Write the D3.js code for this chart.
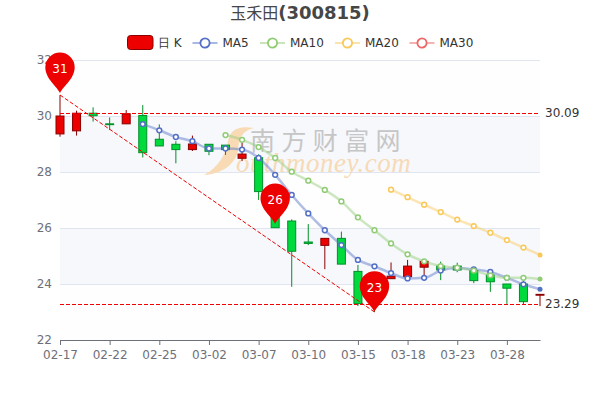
<!DOCTYPE html>
<html>
<head>
<meta charset="utf-8">
<title>玉禾田(300815)</title>
<script src="https://cdn.jsdelivr.net/npm/d3@7/dist/d3.min.js"></script>
<style>
  html, body { margin: 0; padding: 0; background: #fff; }
  svg { display: block; }
  text { font-family: "DejaVu Sans", sans-serif; }
</style>
</head>
<body>
<div class="chart"></div>
<script>
// data
var dates = ["02-17","02-18","02-21","02-22","02-23","02-24","02-25","02-28","03-01","03-02",
             "03-03","03-04","03-07","03-08","03-09","03-10","03-11","03-14","03-15","03-16",
             "03-17","03-18","03-21","03-22","03-23","03-24","03-25","03-28","03-29","03-30"];
var opens  = [29.36,29.47,30.10,29.72,29.72,30.02,29.17,28.99,28.80,28.99,28.96,28.49,28.51,27.30,26.25,25.50,25.38,25.63,24.45,24.30,24.19,24.26,24.60,24.64,24.64,24.48,24.32,24.00,24.00,23.60];
var closes = [30.00,30.10,30.01,29.69,30.08,28.69,28.93,28.80,29.00,28.74,28.80,28.64,27.30,26.01,25.17,25.45,25.63,24.71,23.30,24.00,24.28,24.64,24.81,24.50,24.50,24.12,24.08,23.85,23.37,23.63];
var lows   = [29.26,29.30,29.80,29.50,29.72,28.52,28.93,28.31,28.75,28.60,28.61,28.39,27.00,26.01,23.90,25.39,24.53,24.71,23.21,23.00,24.19,24.26,24.32,24.14,24.42,24.03,23.72,23.29,23.25,23.21];
var highs  = [30.75,30.19,30.31,29.95,30.21,30.39,29.70,29.10,29.30,29.00,28.96,29.05,28.63,27.30,26.31,26.14,25.63,25.87,24.68,24.40,24.77,24.86,24.85,24.80,24.76,24.60,24.35,24.00,24.14,23.63];
var ma5  = [null,null,null,null,null,29.71,29.49,29.25,29.10,28.84,28.84,28.80,28.50,27.90,27.18,26.52,25.92,25.39,24.86,24.63,24.39,24.20,24.22,24.48,24.57,24.52,24.43,24.22,23.99,23.81];
var ma10 = [null,null,null,null,null,null,null,null,null,null,29.32,29.15,28.89,28.50,28.01,27.69,27.36,26.95,26.38,25.92,25.45,25.06,24.81,24.64,24.58,24.48,24.31,24.22,24.22,24.18];
var ma20 = [null,null,null,null,null,null,null,null,null,null,null,null,null,null,null,null,null,null,null,null,27.37,27.10,26.83,26.57,26.30,26.07,25.83,25.57,25.30,25.04];
var yTicks = [22,24,26,28,30,32];
var pinDates = ["02-17","03-08","03-16"];
var pinValues = [30.81,26.14,23.00];
var pinLabels = ["31","26","23"];
var hLines = [30.09,23.29];
var slantFrom = ["02-17",30.75];
var slantTo = ["03-16",23.00];

var width = 600, height = 400;
var red = "#ec0000", redBorder = "#8a0000", green = "#00da3c", greenBorder = "#008f28";
var maSeries = [
  {name:"MA5", values:ma5, color:"#5470c6", lx:192.5},
  {name:"MA10", values:ma10, color:"#91cc75", lx:260},
  {name:"MA20", values:ma20, color:"#fac858", lx:335},
  {name:"MA30", values:[], color:"#ee6666", lx:409.5}
];

var x = d3.scalePoint().domain(dates).range([60,540]);
var y = d3.scaleLinear().domain([22,32]).range([340,60]);

var svg = d3.select(".chart").append("svg")
  .attr("width",width).attr("height",height)
  .attr("viewBox",[0,0,width,height]);

//alternate background bands
svg.append("g").selectAll("rect")
  .data(d3.pairs(yTicks))
  .enter().append("rect")
  .attr("x",x.range()[0])
  .attr("width",x.range()[1]-x.range()[0])
  .attr("y",function(d){ return y(d[1]); })
  .attr("height",function(d){ return y(d[0])-y(d[1]); })
  .attr("fill",function(d,i){ return i%2 ? "#f6f8fc" : "#fefefe"; });

//split lines
svg.append("g").selectAll("line")
  .data(yTicks.slice(1))
  .enter().append("line")
  .attr("x1",60).attr("x2",540)
  .attr("y1",function(d){ return y(d)+0.5; })
  .attr("y2",function(d){ return y(d)+0.5; })
  .attr("stroke","#e0e6f1");

//watermark
var mark = svg.append("g").attr("class","watermark");
mark.append("path")
  .attr("d","M254,128 C238,125 230,130 228,141 C226,154 218,168 204,175 C222,174 236,164 238,150 C239,138 242,131 254,128 Z")
  .attr("fill","#f8dbb5");
mark.append("text")
  .attr("x",250).attr("y",150)
  .attr("font-size",25)
  .attr("letter-spacing",6.4)
  .attr("fill","#c6c6c6")
  .style("font-family","'Noto Sans CJK SC', sans-serif")
  .text("南方财富网");
mark.append("text")
  .attr("x",236).attr("y",172)
  .attr("font-size",27)
  .attr("font-style","italic")
  .attr("letter-spacing",0.5)
  .attr("fill","#f7dab6")
  .style("font-family","'Liberation Serif', serif")
  .text("outhmoney.com");

//axes
var yAxis = d3.axisLeft(y).tickValues(yTicks).tickSize(0).tickPadding(8);
svg.append("g").attr("transform","translate(60,0)").call(yAxis)
  .call(function(g){ g.select(".domain").remove(); })
  .selectAll("text").attr("font-size",12).attr("fill","#6e7079").style("font-family","'DejaVu Sans'");

var xAxis = d3.axisBottom(x)
  .tickValues(dates.filter(function(d,i){ return i%3==0; }))
  .tickSize(5).tickSizeOuter(0).tickPadding(5);
var xg = svg.append("g").attr("transform","translate(0,340)").call(xAxis);
xg.selectAll("path,line").attr("stroke","#6e7079");
xg.selectAll("text").attr("font-size",12).attr("fill","#6e7079").style("font-family","'DejaVu Sans'");

//candles
var candles = svg.append("g").attr("class","candles").selectAll("g")
  .data(dates)
  .enter().append("g");
function isUp(i){ return closes[i]>=opens[i]; }
candles.append("line")
  .attr("x1",function(d){ return x(d); })
  .attr("x2",function(d){ return x(d); })
  .attr("y1",function(d,i){ return y(highs[i]); })
  .attr("y2",function(d,i){ return y(lows[i]); })
  .attr("stroke",function(d,i){ return isUp(i) ? redBorder : greenBorder; });
candles.append("rect")
  .attr("x",function(d){ return x(d)-4; })
  .attr("width",8)
  .attr("y",function(d,i){ return y(Math.max(opens[i],closes[i])); })
  .attr("height",function(d,i){ return Math.abs(y(opens[i])-y(closes[i])); })
  .attr("fill",function(d,i){ return isUp(i) ? red : green; })
  .attr("stroke",function(d,i){ return isUp(i) ? redBorder : greenBorder; });

//moving averages
var line = d3.line()
  .defined(function(d){ return d[1]!=null; })
  .x(function(d){ return x(d[0]); })
  .y(function(d){ return y(d[1]); })
  .curve(d3.curveMonotoneX);

maSeries.forEach(function(s){
  var pts = s.values.map(function(v,i){ return [dates[i],v]; });
  var g = svg.append("g").attr("class","ma");
  g.append("path")
    .attr("d",line(pts))
    .attr("fill","none")
    .attr("stroke",s.color)
    .attr("stroke-width",2.5)
    .attr("stroke-opacity",0.45);
  var shown = pts.filter(function(d){ return d[1]!=null; });
  g.selectAll("circle")
    .data(shown)
    .enter().append("circle")
    .attr("cx",function(d){ return x(d[0]); })
    .attr("cy",function(d){ return y(d[1]); })
    .attr("r",function(d,i){ return i==shown.length-1 ? 2.5 : 2.4; })
    //the last dot is solid in the picture
    .attr("fill",function(d,i){ return i==shown.length-1 ? s.color : "#fff"; })
    .attr("stroke",s.color)
    .attr("stroke-width",function(d,i){ return i==shown.length-1 ? 0 : 1.5; });
});

//mark lines, levels snapped to the pixel row
var marks = svg.append("g").attr("class","marklines");
marks.selectAll("line.level")
  .data(hLines)
  .enter().append("line")
  .attr("class","level")
  .attr("x1",60).attr("x2",540)
  .attr("y1",function(d){ return Math.round(y(d))+0.5; })
  .attr("y2",function(d){ return Math.round(y(d))+0.5; })
  .attr("stroke","#f00000")
  .attr("stroke-dasharray","4,2");
marks.selectAll("text")
  .data(hLines)
  .enter().append("text")
  .attr("x",545)
  .attr("y",function(d){ return y(d)+4; })
  .attr("font-size",12)
  .attr("fill","#333")
  .text(function(d){ return d.toFixed(2); });
marks.append("line")
  .attr("x1",x(slantFrom[0])).attr("y1",y(slantFrom[1]))
  .attr("x2",x(slantTo[0])).attr("y2",y(slantTo[1]))
  .attr("stroke","#f00000")
  .attr("stroke-dasharray","4,2");

//pins, tip sits on the value
var pins = svg.append("g").attr("class","pins").selectAll("g")
  .data(pinValues)
  .enter().append("g")
  .attr("transform",function(d,i){ return "translate("+x(pinDates[i])+","+y(d)+")"; });
pins.append("path")
  .attr("d","M0,0 C-2,-6 -14.7,-14 -14.7,-26 A14.7,14.7 0 1 1 14.7,-26 C14.7,-14 2,-6 0,0 Z")
  .attr("fill",red);
pins.append("text")
  .attr("y",-20)
  .attr("text-anchor","middle")
  .attr("font-size",12)
  .attr("fill","#fff")
  .text(function(d,i){ return pinLabels[i]; });

//title
var title = svg.append("text")
  .attr("x",300).attr("y",19)
  .attr("text-anchor","middle")
  .attr("fill","#464646")
  .attr("font-size",18);
title.append("tspan")
  .attr("font-size",16)
  .style("font-family","'Noto Sans CJK SC', sans-serif")
  .text("玉禾田");
title.append("tspan")
  .attr("font-weight","bold")
  .text("(300815)");

//legend
var legend = svg.append("g").attr("class","legend");
legend.append("rect")
  .attr("x",127.5).attr("y",35.5)
  .attr("width",25.5).attr("height",14)
  .attr("rx",3)
  .attr("fill",red)
  .attr("stroke",redBorder);
legend.append("text")
  .attr("x",158).attr("y",47)
  .attr("font-size",12)
  .attr("fill","#333")
  .text("日 K");
maSeries.forEach(function(s){
  var g = legend.append("g").attr("transform","translate("+s.lx+",43)");
  g.append("line")
    .attr("x2",25)
    .attr("stroke",s.color)
    .attr("stroke-width",2)
    .attr("stroke-opacity",0.5);
  g.append("circle")
    .attr("cx",12.5)
    .attr("r",4.6)
    .attr("fill","#fff")
    .attr("stroke",s.color)
    .attr("stroke-width",1.8);
  g.append("text")
    .attr("x",30)
    .attr("y",4)
    .attr("font-size",12)
    .attr("fill","#333")
    .text(s.name);
});
</script>
</body>
</html>
